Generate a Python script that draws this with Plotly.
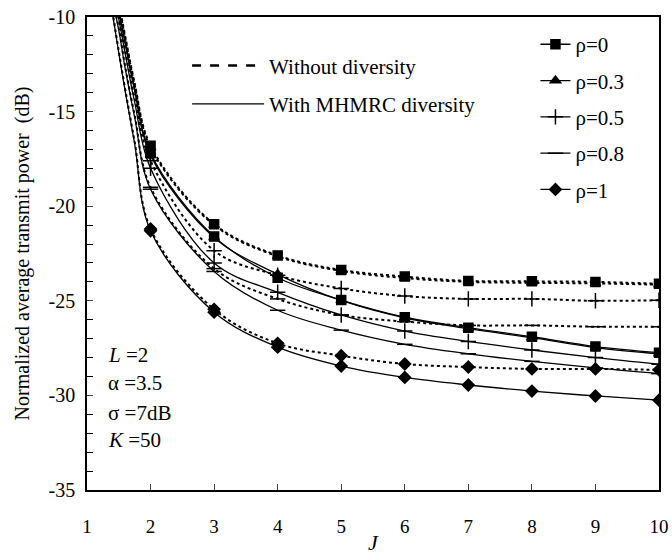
import plotly.graph_objects as go

# J grid for curves (steep part read at fractional J, markers at integer J)
J_curve = [1.4, 1.5, 1.6, 1.75, 2, 3, 4, 5, 6, 7, 8, 9, 10]
J_mark = [2, 3, 4, 5, 6, 7, 8, 9, 10]

rho_labels = ["ρ=0", "ρ=0.3", "ρ=0.5", "ρ=0.8", "ρ=1"]
symbols = ["square", "triangle-up", "cross-thin", "line-ew", "diamond"]

# Without diversity (dotted)
wo_rho0 = [-7.9, -9.3, -11.0, -13.5, -16.8, -20.95, -22.6, -23.37, -23.72, -23.95, -23.97, -24.0, -24.1]
wo_rho03 = [-8.0, -9.4, -11.1, -13.6, -16.9, -21.0, -22.65, -23.42, -23.8, -24.0, -24.05, -24.08, -24.15]
wo_rho05 = [-8.4, -10.0, -11.8, -14.3, -17.6, -22.35, -23.65, -24.35, -24.75, -24.9, -24.9, -25.0, -24.97]
wo_rho08 = [-9.0, -10.6, -12.6, -15.2, -19.0, -23.3, -24.9, -25.75, -26.1, -26.3, -26.3, -26.37, -26.37]
wo_rho1 = [-9.7, -11.8, -13.8, -16.6, -21.2, -25.45, -27.25, -27.9, -28.34, -28.5, -28.6, -28.6, -28.65]

# With MHMRC diversity (solid)
w_rho0 = [-8.1, -9.6, -11.3, -13.8, -17.2, -21.6, -23.78, -24.96, -25.87, -26.42, -26.9, -27.42, -27.74]
w_rho03 = [-8.2, -9.7, -11.4, -13.9, -17.3, -21.65, -23.6, -24.98, -25.9, -26.47, -26.95, -27.47, -27.8]
w_rho05 = [-8.5, -10.1, -11.9, -14.5, -18.0, -23.0, -24.55, -25.75, -26.6, -27.15, -27.6, -28.0, -28.35]
w_rho08 = [-9.1, -10.7, -12.7, -15.3, -19.1, -23.45, -25.5, -26.55, -27.3, -27.8, -28.2, -28.55, -28.85]
w_rho1 = [-9.8, -11.9, -13.9, -16.7, -21.3, -25.6, -27.45, -28.45, -29.05, -29.45, -29.77, -30.03, -30.25]

x_ticks = [1, 2, 3, 4, 5, 6, 7, 8, 9, 10]
y_ticks = [-35, -30, -25, -20, -15, -10]
y_ticktext = ["-35", "-30", "-25", "-20", "-15", "-10"]

without_series = [wo_rho0, wo_rho03, wo_rho05, wo_rho08, wo_rho1]
with_series = [w_rho0, w_rho03, w_rho05, w_rho08, w_rho1]

FONT = "Liberation Serif, Times New Roman, serif"
fig = go.Figure()

def marker_vals(series):
    return [v for j, v in zip(J_curve, series) if j in J_mark]

for i, lab in enumerate(rho_labels):
    sym = symbols[i]
    msize = 9 if sym in ("square", "triangle-up", "diamond") else 11
    mk = dict(symbol=sym, size=msize, color="black", line=dict(color="black", width=1.5))
    # dotted (without diversity)
    fig.add_trace(go.Scatter(x=J_curve, y=without_series[i], mode="lines",
                             line=dict(color="black", width=2, dash="dot", shape="spline"),
                             showlegend=False, hoverinfo="skip"))
    fig.add_trace(go.Scatter(x=J_mark, y=marker_vals(without_series[i]), mode="markers",
                             marker=mk, showlegend=False))
    # solid (with diversity)
    fig.add_trace(go.Scatter(x=J_curve, y=with_series[i], mode="lines",
                             line=dict(color="black", width=1.3, shape="spline"),
                             showlegend=False, hoverinfo="skip"))
    fig.add_trace(go.Scatter(x=J_mark, y=marker_vals(with_series[i]), mode="markers",
                             marker=mk, showlegend=False))
    # legend entry (rho)
    fig.add_trace(go.Scatter(x=[None], y=[None], mode="lines+markers", name=lab,
                             line=dict(color="black", width=1.3), marker=mk,
                             legend="legend2", legendgroup=lab))

# legend entries (line styles)
fig.add_trace(go.Scatter(x=[None], y=[None], mode="lines", name="Without diversity",
                         line=dict(color="black", width=2.5, dash="dash"),
                         legend="legend", legendgroup="a"))
fig.add_trace(go.Scatter(x=[None], y=[None], mode="lines", name="With MHMRC diversity",
                         line=dict(color="black", width=1.3),
                         legend="legend", legendgroup="b"))

annots = [
    ("<i>L</i> =2", -27.86),
    ("α =3.5", -29.34),
    ("σ =7dB", -30.93),
    ("<i>K</i> =50", -32.36),
]
for txt, yv in annots:
    fig.add_annotation(x=1.3, y=yv, xref="x", yref="y", text=txt, showarrow=False,
                       xanchor="left", yanchor="middle",
                       font=dict(family=FONT, size=21, color="black"))

# x-axis title placed as text below the tick labels
fig.add_annotation(x=0.5, y=-0.11, xref="paper", yref="paper", text="<i>J</i>",
                   showarrow=False, xanchor="center", yanchor="middle",
                   font=dict(family=FONT, size=22, color="black"))

fig.update_layout(
    width=672, height=554,
    margin=dict(l=87, r=13, t=17, b=64),
    plot_bgcolor="white", paper_bgcolor="white",
    font=dict(family=FONT, size=20, color="black"),
    legend=dict(x=0.175, y=0.94, xanchor="left", yanchor="top", itemwidth=72,
                bgcolor="rgba(0,0,0,0)", font=dict(family=FONT, size=21),
                tracegroupgap=8, traceorder="grouped"),
    legend2=dict(x=0.784, y=0.985, xanchor="left", yanchor="top",
                 bgcolor="rgba(0,0,0,0)", font=dict(family=FONT, size=21),
                 tracegroupgap=6, traceorder="grouped"),
    xaxis=dict(range=[1, 10], tickvals=x_ticks, ticks="inside", ticklen=6,
               showline=True, linecolor="black", linewidth=1.5, mirror=True,
               showgrid=False, zeroline=False, ticklabelstandoff=18, automargin=False,
               tickfont=dict(family=FONT, size=19)),
    yaxis=dict(range=[-35, -10], tickvals=y_ticks, ticktext=y_ticktext,
               ticks="inside", ticklen=6, automargin=False,
               minor=dict(dtick=1, ticks="inside", ticklen=6, tickcolor="black"),
               showline=True, linecolor="black", linewidth=1.5, mirror=True,
               showgrid=False, zeroline=False, ticklabelstandoff=6,
               tickfont=dict(family=FONT, size=20),
               title=dict(text="Normalized average transmit power  (dB)",
                          font=dict(family=FONT, size=20), standoff=14)),
)

fig.write_html("out.html", config={"displayModeBar": False},
               post_script="document.body.style.margin='0px';document.body.style.padding='0px';")
